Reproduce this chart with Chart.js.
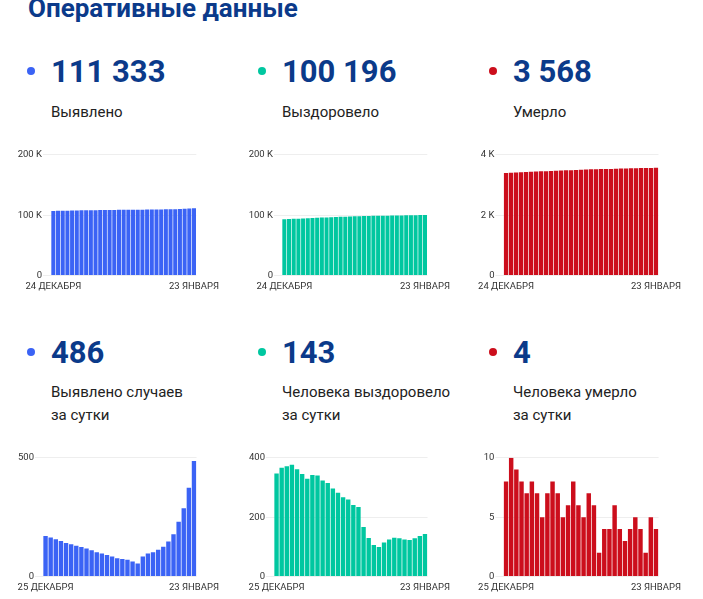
<!DOCTYPE html>
<html lang="ru">
<head>
<meta charset="utf-8">
<script src="https://cdn.jsdelivr.net/npm/chart.js@4/dist/chart.umd.min.js"></script>
<style>
  html, body { margin: 0; padding: 0; background: #fff; }
  body { width: 703px; height: 599px; position: relative; overflow: hidden; font-family: Roboto, "Noto Sans", sans-serif; }
  .title { position: absolute; left: 28px; top: -5px; font-size: 26px; line-height: 26px; font-weight: 700; color: #0b3a8a; white-space: nowrap; }
  .dot { position: absolute; width: 8px; height: 8px; border-radius: 50%; }
  .num { position: absolute; font-size: 31px; line-height: 31px; font-weight: 700; color: #0b3a8a; white-space: nowrap; }
  .lbl { position: absolute; font-size: 15px; line-height: 23px; color: #222; white-space: nowrap; }
  .box { position: absolute; width: 213px; }
</style>
</head>
<body>
<div class="title">Оперативные данные</div>
<div id="panels"></div>
<script>
// dates
let cumLabels = ['24 декабря','25 декабря','26 декабря','27 декабря','28 декабря','29 декабря','30 декабря','31 декабря',
  '1 января','2 января','3 января','4 января','5 января','6 января','7 января','8 января','9 января','10 января',
  '11 января','12 января','13 января','14 января','15 января','16 января','17 января','18 января','19 января',
  '20 января','21 января','22 января','23 января'];
let dayLabels = cumLabels.slice(1);

// cumulative totals, 24 Dec .. 23 Jan
let infectedTotal = [106990,107161,107325,107482,107632,107773,107909,108039,108164,108282,108393,108495,108592,
  108683,108767,108844,108918,108989,109052,109107,109191,109288,109390,109503,109629,109777,109955,110186,110473,110847,111333];
let recoveredTotal = [93142,93489,93855,94226,94602,94963,95308,95637,95979,96319,96642,96957,97253,97535,97802,
  98061,98302,98536,98703,98833,98939,99039,99154,99279,99410,99539,99664,99787,99916,100053,100196];
let deathsTotal = [3394,3402,3412,3421,3429,3436,3444,3451,3456,3463,3471,3478,3483,3489,3497,3503,3508,3515,
  3521,3523,3527,3531,3537,3541,3544,3548,3553,3557,3559,3564,3568];

// per day, 25 Dec .. 23 Jan
let infectedDay = [171,164,157,150,141,136,130,125,118,111,102,97,91,84,77,74,71,63,55,84,97,102,113,126,148,178,231,287,374,486];
let recoveredDay = [347,366,371,376,361,345,329,342,340,323,315,296,282,267,259,241,234,167,130,106,100,115,125,131,129,125,123,129,137,143];
let deathsDay = [8,10,9,8,7,8,7,5,7,8,7,5,6,8,6,5,7,6,2,4,4,6,4,3,4,5,4,2,5,4];

let blue = 'rgb(59, 99, 245)';
let teal = 'rgb(0, 199, 160)';
let red = 'rgb(204, 14, 28)';

let panels = [
  { row: 0, col: 0, color: blue, big: '111 333', text: ['Выявлено'], labels: cumLabels, data: infectedTotal, max: 200000, step: 100000, axisW: 40 },
  { row: 0, col: 1, color: teal, big: '100 196', text: ['Выздоровело'], labels: cumLabels, data: recoveredTotal, max: 200000, step: 100000, axisW: 40 },
  { row: 0, col: 2, color: red, big: '3 568', text: ['Умерло'], labels: cumLabels, data: deathsTotal, max: 4000, step: 2000, axisW: 30 },
  { row: 1, col: 0, color: blue, big: '486', text: ['Выявлено случаев', 'за сутки'], labels: dayLabels, data: infectedDay, max: 500, step: 500, axisW: 32 },
  { row: 1, col: 1, color: teal, big: '143', text: ['Человека выздоровело', 'за сутки'], labels: dayLabels, data: recoveredDay, max: 400, step: 200, axisW: 32 },
  { row: 1, col: 2, color: red, big: '4', text: ['Человека умерло', 'за сутки'], labels: dayLabels, data: deathsDay, max: 10, step: 5, axisW: 30 }
];

function fmtY(v){
  if(v === 0) return '0';
  if(v >= 1000) return (v/1000) + ' K';
  return v;
}

let root = document.getElementById('panels');

panels.forEach((p) => {
  let dx = p.col * 231;
  let rowTop = p.row === 0 ? 0 : 281;

  let dot = document.createElement('div');
  dot.className = 'dot';
  dot.style.background = p.color;
  dot.style.left = (27 + dx) + 'px';
  dot.style.top = (67 + rowTop) + 'px';
  root.appendChild(dot);

  let num = document.createElement('div');
  num.className = 'num';
  num.textContent = p.big;
  num.style.left = (51 + dx) + 'px';
  num.style.top = (56 + rowTop) + 'px';
  root.appendChild(num);

  let lbl = document.createElement('div');
  lbl.className = 'lbl';
  lbl.innerHTML = p.text.join('<br>');
  lbl.style.left = (51 + dx) + 'px';
  lbl.style.top = (p.row === 0 ? 101 : 381) + 'px';
  root.appendChild(lbl);

  let box = document.createElement('div');
  box.className = 'box';
  box.style.left = (11 + dx) + 'px';
  box.style.top = (p.row === 0 ? 148 : 451) + 'px';
  box.style.height = (p.row === 0 ? 149 : 147) + 'px';
  let cv = document.createElement('canvas');
  box.appendChild(cv);
  root.appendChild(box);

  let last = p.labels.length - 1;
  new Chart(cv, {
    type: 'bar',
    data: {
      labels: p.labels,
      datasets: [{
        data: p.data,
        backgroundColor: p.color,
        borderWidth: 0,
        barPercentage: 1,
        categoryPercentage: 0.86
      }]
    },
    options: {
      responsive: true,
      maintainAspectRatio: false,
      animation: false,
      plugins: { legend: { display: false }, tooltip: { enabled: false } },
      layout: { padding: 0 },
      scales: {
        x: {
          grid: { display: false, drawTicks: false },
          border: { display: false },
          ticks: {
            autoSkip: false,
            maxRotation: 0,
            padding: 5,
            color: '#333',
            font: { family: 'Roboto', size: 9.5 },
            callback: function(v, i){ return (i === 0 || i === last) ? this.getLabelForValue(v).toUpperCase() : ''; }
          }
        },
        y: {
          min: 0,
          max: p.max,
          afterFit: (scale) => { scale.width = p.axisW; },
          grid: { color: '#eeeeee', tickLength: 8 },
          border: { display: false },
          ticks: {
            stepSize: p.step,
            padding: 1,
            color: '#333',
            font: { family: 'Roboto', size: 9.5 },
            callback: fmtY
          }
        }
      }
    }
  });
});
</script>
</body>
</html>
